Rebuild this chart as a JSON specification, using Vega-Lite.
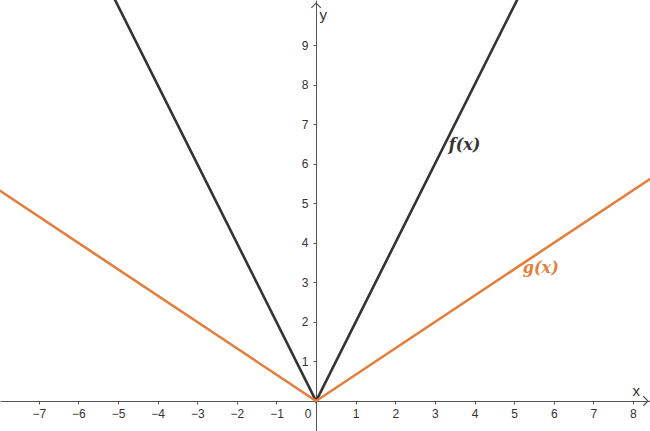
{
  "$schema": "https://vega.github.io/schema/vega-lite/v6.json",
  "width": 650,
  "height": 431,
  "padding": 0,
  "autosize": {"type": "none"},
  "datasets": {
    "curves": [
      {"fn": "f", "x": -5.5, "y": 11},
      {"fn": "f", "x": 0, "y": 0},
      {"fn": "f", "x": 5.5, "y": 11},
      {"fn": "g", "x": -8.5, "y": 5.667},
      {"fn": "g", "x": 0, "y": 0},
      {"fn": "g", "x": 8.5, "y": 5.667}
    ],
    "labels": [
      {"fn": "f", "x": 3.35, "y": 6.48, "label": "f(x)"},
      {"fn": "g", "x": 5.22, "y": 3.37, "label": "g(x)"}
    ],
    "titles": [
      {"x": 8.08, "y": 0.25, "label": "x"},
      {"x": 0.18, "y": 9.78, "label": "y"}
    ],
    "origin": [
      {"x": 0, "y": 0, "label": "0"}
    ],
    "arrowX": [{"x": 8.38, "y": 0}],
    "arrowY": [{"x": 0, "y": 10.07}]
  },
  "layer": [
    {
      "data": {"name": "curves"},
      "mark": {"type": "line", "strokeWidth": 2.6, "clip": true},
      "encoding": {
        "x": {
          "field": "x",
          "type": "quantitative",
          "scale": {"domain": [-7.98, 8.43], "nice": false, "zero": false},
          "axis": {
            "orient": "bottom",
            "offset": -30,
            "values": [-7, -6, -5, -4, -3, -2, -1, 1, 2, 3, 4, 5, 6, 7, 8],
            "grid": false,
            "title": null,
            "domainColor": "#555555",
            "tickColor": "#555555",
            "tickSize": 3,
            "labelColor": "#333333",
            "labelFont": "Liberation Sans",
            "labelFontSize": 12,
            "labelPadding": 4
          }
        },
        "y": {
          "field": "y",
          "type": "quantitative",
          "scale": {"domain": [-0.76, 10.15], "nice": false, "zero": false},
          "axis": {
            "orient": "left",
            "offset": -316,
            "values": [1, 2, 3, 4, 5, 6, 7, 8, 9],
            "grid": false,
            "title": null,
            "domainColor": "#555555",
            "tickColor": "#555555",
            "tickSize": 3,
            "labelColor": "#333333",
            "labelFont": "Liberation Sans",
            "labelFontSize": 12,
            "labelPadding": 5
          }
        },
        "color": {
          "field": "fn",
          "type": "nominal",
          "scale": {"domain": ["f", "g"], "range": ["#333333", "#e37f3e"]},
          "legend": null
        }
      }
    },
    {
      "data": {"name": "labels"},
      "mark": {
        "type": "text",
        "align": "left",
        "baseline": "middle",
        "font": "DejaVu Serif",
        "fontStyle": "italic",
        "fontWeight": "bold",
        "fontSize": 16
      },
      "encoding": {
        "x": {"field": "x", "type": "quantitative"},
        "y": {"field": "y", "type": "quantitative"},
        "text": {"field": "label"},
        "color": {"field": "fn", "type": "nominal", "legend": null}
      }
    },
    {
      "data": {"name": "titles"},
      "mark": {
        "type": "text",
        "align": "center",
        "baseline": "middle",
        "font": "Liberation Sans",
        "fontSize": 15,
        "color": "#333333"
      },
      "encoding": {
        "x": {"field": "x", "type": "quantitative"},
        "y": {"field": "y", "type": "quantitative"},
        "text": {"field": "label"}
      }
    },
    {
      "data": {"name": "origin"},
      "mark": {
        "type": "text",
        "align": "center",
        "baseline": "middle",
        "dx": -8,
        "dy": 13,
        "font": "Liberation Sans",
        "fontSize": 12,
        "color": "#333333"
      },
      "encoding": {
        "x": {"field": "x", "type": "quantitative"},
        "y": {"field": "y", "type": "quantitative"},
        "text": {"field": "label"}
      }
    },
    {
      "data": {"name": "arrowX"},
      "mark": {"type": "point", "shape": "M-1,-1L0,0L-1,1", "filled": false, "strokeWidth": 1.2, "size": 90, "color": "#555555", "opacity": 1},
      "encoding": {
        "x": {"field": "x", "type": "quantitative"},
        "y": {"field": "y", "type": "quantitative"}
      }
    },
    {
      "data": {"name": "arrowY"},
      "mark": {"type": "point", "shape": "M-1,1L0,0L1,1", "filled": false, "strokeWidth": 1.2, "size": 90, "color": "#555555", "opacity": 1},
      "encoding": {
        "x": {"field": "x", "type": "quantitative"},
        "y": {"field": "y", "type": "quantitative"}
      }
    }
  ],
  "config": {"view": {"stroke": null}}
}
